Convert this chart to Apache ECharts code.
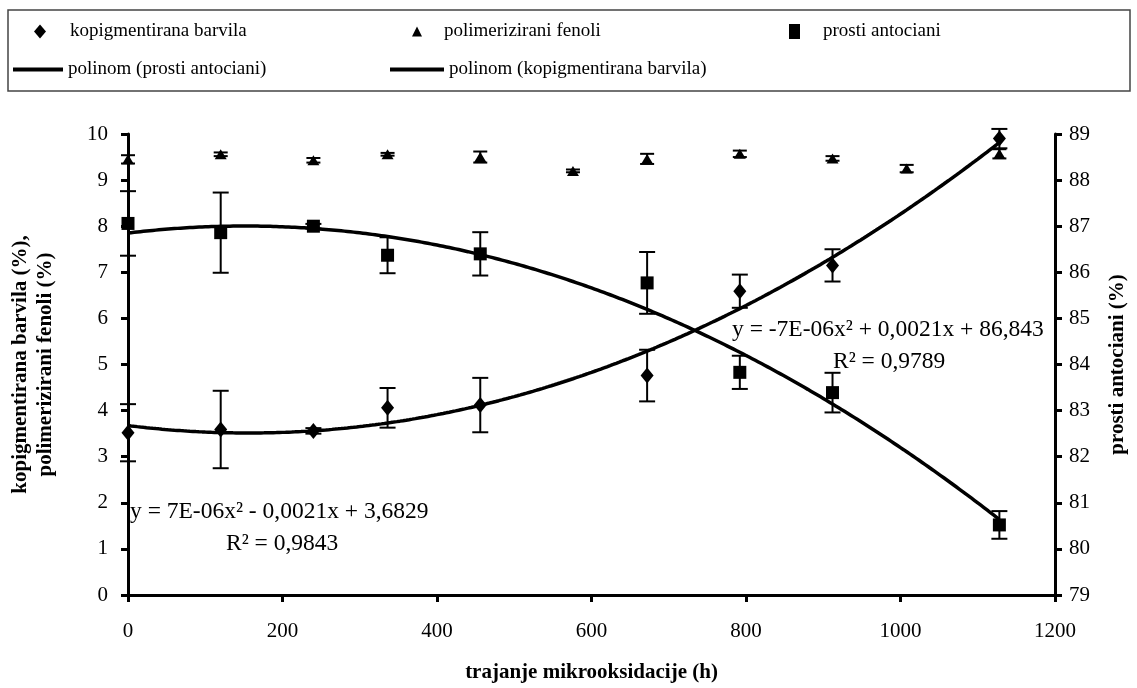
<!DOCTYPE html>
<html>
<head>
<meta charset="utf-8">
<script src="https://cdn.jsdelivr.net/npm/echarts@6/dist/echarts.min.js"></script>
<style>
  html, body { margin: 0; padding: 0; background: #fff; }
  #chart { width: 1137px; height: 688px; }
</style>
</head>
<body>
<div id="chart"></div>
<script>
// Measurement times (h)
const hours = [0, 120, 240, 336, 456, 672, 792, 912, 1128];
const fenolHours = [0, 120, 240, 336, 456, 576, 672, 792, 912, 1008, 1128];

// Co-pigmented colourants (%), left axis
const kopig = [3.52, 3.59, 3.56, 4.06, 4.12, 4.76, 6.59, 7.15, 9.90];
const kopigErr = [0.62, 0.84, 0.06, 0.43, 0.59, 0.56, 0.36, 0.35, 0.21];

// Polymerised phenolics (%), left axis
const fenoli = [9.45, 9.56, 9.43, 9.56, 9.50, 9.20, 9.46, 9.57, 9.47, 9.25, 9.57];
const fenoliErr = [0.09, 0.04, 0.05, 0.03, 0.12, 0.03, 0.11, 0.07, 0.05, 0.08, 0.10];

// Free anthocyanins (%), right axis
const prosti = [87.06, 86.86, 87.00, 86.37, 86.40, 85.77, 83.83, 83.39, 80.52];
const prostiErr = [0.70, 0.87, 0.05, 0.39, 0.47, 0.67, 0.36, 0.43, 0.30];

// Axis ticks
const xTicks = { min: 0, max: 1200, interval: 200 };
const leftTicks = { min: 0, max: 10, interval: 1 };
const rightTicks = { min: 79, max: 89, interval: 1 };

// Trend-line equations
const eqKopig = ['y = 7E-06x² - 0,0021x + 3,6829', 'R² = 0,9843'];
const eqProsti = ['y = -7E-06x² + 0,0021x + 86,843', 'R² = 0,9789'];

const FONT = "'Liberation Serif', 'Times New Roman', serif";

// Least-squares second-order polynomial fit: returns [c, b, a] for c + b x + a x²
function quadFit(xs, ys) {
  let n = xs.length, sx = 0, sx2 = 0, sx3 = 0, sx4 = 0, sy = 0, sxy = 0, sx2y = 0;
  for (let i = 0; i < n; i++) {
    const x = xs[i], y = ys[i], x2 = x * x;
    sx += x; sx2 += x2; sx3 += x2 * x; sx4 += x2 * x2;
    sy += y; sxy += x * y; sx2y += x2 * y;
  }
  const M = [[n, sx, sx2], [sx, sx2, sx3], [sx2, sx3, sx4]];
  const R = [sy, sxy, sx2y];
  const det = m => m[0][0] * (m[1][1] * m[2][2] - m[1][2] * m[2][1])
                 - m[0][1] * (m[1][0] * m[2][2] - m[1][2] * m[2][0])
                 + m[0][2] * (m[1][0] * m[2][1] - m[1][1] * m[2][0]);
  const D = det(M);
  return [0, 1, 2].map(k => det(M.map((row, r) => row.map((v, c) => c === k ? R[r] : v))) / D);
}

function trendPoints(xs, ys) {
  const [c, b, a] = quadFit(xs, ys);
  const pts = [];
  const x0 = xs[0], x1 = xs[xs.length - 1];
  for (let x = x0; x <= x1; x += 4) pts.push([x, c + b * x + a * x * x]);
  return pts;
}

function errData(xs, vals, errs) {
  return xs.map((x, i) => [x, vals[i] - errs[i], vals[i] + errs[i]]);
}

function errorBars(name, xs, vals, errs, yAxisIndex, cap) {
  return {
    type: 'custom',
    name: name,
    yAxisIndex: yAxisIndex,
    data: errData(xs, vals, errs),
    encode: { x: 0, y: [1, 2] },
    z: 3,
    silent: true,
    clip: false,
    renderItem: function (params, api) {
      const x = api.value(0);
      const lo = api.coord([x, api.value(1)]);
      const hi = api.coord([x, api.value(2)]);
      const st = { stroke: '#000', lineWidth: 2 };
      return {
        type: 'group',
        children: [
          { type: 'line', shape: { x1: lo[0], y1: lo[1], x2: hi[0], y2: hi[1] }, style: st },
          { type: 'line', shape: { x1: lo[0] - cap, y1: lo[1], x2: lo[0] + cap, y2: lo[1] }, style: st },
          { type: 'line', shape: { x1: hi[0] - cap, y1: hi[1], x2: hi[0] + cap, y2: hi[1] }, style: st }
        ]
      };
    }
  };
}

const chart = echarts.init(document.getElementById('chart'), null, { renderer: 'canvas' });

const legendText = { fontFamily: FONT, fontSize: 19, color: '#000' };
function legendAt(name, left, top, w, h, padLeft, icon) {
  return {
    data: [name], left: left, top: top, padding: 0,
    itemWidth: w, itemHeight: h, selectedMode: true, icon: icon,
    textStyle: Object.assign({ padding: [0, 0, 0, padLeft] }, legendText),
    itemStyle: { color: '#000' }
  };
}

const axisCommon = {
  axisLine: { show: true, onZero: false, lineStyle: { color: '#000', width: 3 } },
  axisTick: { show: true, length: 7, lineStyle: { color: '#000', width: 3 } },
  splitLine: { show: false },
  axisLabel: { fontFamily: FONT, fontSize: 21, color: '#000' },
  nameTextStyle: { fontFamily: FONT, fontSize: 21, fontWeight: 'bold', color: '#000' }
};

const EQ_FONT = '23.5px ' + FONT;

const option = {
  backgroundColor: '#fff',
  animation: false,
  grid: { left: 126, right: 82, top: 134, bottom: 92, containLabel: false },
  legend: [
    legendAt('kopigmentirana barvila', 34, 22, 12, 14, 19, 'diamond'),
    legendAt('polimerizirani fenoli', 412, 22, 10, 10, 17, 'triangle'),
    legendAt('prosti antociani', 789, 22, 11, 15, 18, 'rect'),
    legendAt('polinom (prosti antociani)', 13, 60, 50, 4, 0, 'rect'),
    legendAt('polinom (kopigmentirana barvila)', 390, 60, 54, 4, 0, 'rect')
  ],
  xAxis: Object.assign({}, axisCommon, {
    type: 'value',
    min: xTicks.min, max: xTicks.max, interval: xTicks.interval,
    name: 'trajanje mikrooksidacije (h)',
    nameLocation: 'middle', nameGap: 67,
    axisLabel: Object.assign({}, axisCommon.axisLabel, { margin: 26, formatter: v => String(v) })
  }),
  yAxis: [
    Object.assign({}, axisCommon, {
      type: 'value', position: 'left',
      min: leftTicks.min, max: leftTicks.max, interval: leftTicks.interval,
      name: 'kopigmentirana barvila (%),\npolimerizirani fenoli (%)',
      nameLocation: 'middle', nameRotate: 90, nameGap: 70,
      nameTextStyle: Object.assign({}, axisCommon.nameTextStyle, { lineHeight: 25 }),
      axisLabel: Object.assign({}, axisCommon.axisLabel, { margin: 20 })
    }),
    Object.assign({}, axisCommon, {
      type: 'value', position: 'right',
      min: rightTicks.min, max: rightTicks.max, interval: rightTicks.interval,
      name: 'prosti antociani (%)',
      nameLocation: 'middle', nameRotate: 90, nameGap: 52,
      axisLabel: Object.assign({}, axisCommon.axisLabel, { margin: 14 })
    })
  ],
  series: [
    {
      name: 'kopigmentirana barvila', type: 'scatter', yAxisIndex: 0,
      symbol: 'diamond', symbolSize: [13, 16], z: 5,
      itemStyle: { color: '#000', opacity: 1 },
      data: hours.map((h, i) => [h, kopig[i]])
    },
    {
      name: 'polimerizirani fenoli', type: 'scatter', yAxisIndex: 0,
      symbol: 'triangle', symbolSize: [12, 10], z: 5,
      itemStyle: { color: '#000', opacity: 1 },
      data: fenolHours.map((h, i) => [h, fenoli[i]])
    },
    {
      name: 'prosti antociani', type: 'scatter', yAxisIndex: 1,
      symbol: 'rect', symbolSize: [13, 13], z: 5,
      itemStyle: { color: '#000', opacity: 1 },
      data: hours.map((h, i) => [h, prosti[i]])
    },
    {
      name: 'polinom (prosti antociani)', type: 'line', yAxisIndex: 1,
      showSymbol: false, symbol: 'none', z: 2, silent: true,
      lineStyle: { color: '#000', width: 3.5 }, itemStyle: { color: '#000' },
      data: trendPoints(hours, prosti)
    },
    {
      name: 'polinom (kopigmentirana barvila)', type: 'line', yAxisIndex: 0,
      showSymbol: false, symbol: 'none', z: 2, silent: true,
      lineStyle: { color: '#000', width: 3.5 }, itemStyle: { color: '#000' },
      data: trendPoints(hours, kopig)
    },
    errorBars('kopigmentirana barvila', hours, kopig, kopigErr, 0, 8),
    errorBars('polimerizirani fenoli', fenolHours, fenoli, fenoliErr, 0, 7),
    errorBars('prosti antociani', hours, prosti, prostiErr, 1, 8)
  ],
  graphic: [
    // legend frame
    { type: 'rect', shape: { x: 8, y: 10, width: 1122, height: 81 }, silent: true,
      style: { fill: 'none', stroke: '#444', lineWidth: 1.5 } },
    // regression equations
    { type: 'text', left: 130, top: 500, silent: true,
      style: { text: eqKopig[0], font: EQ_FONT, fill: '#000' } },
    { type: 'text', left: 226, top: 532, silent: true,
      style: { text: eqKopig[1], font: EQ_FONT, fill: '#000' } },
    { type: 'text', left: 732, top: 318, silent: true,
      style: { text: eqProsti[0], font: EQ_FONT, fill: '#000' } },
    { type: 'text', left: 833, top: 350, silent: true,
      style: { text: eqProsti[1], font: EQ_FONT, fill: '#000' } }
  ]
};

chart.setOption(option);
</script>
</body>
</html>
